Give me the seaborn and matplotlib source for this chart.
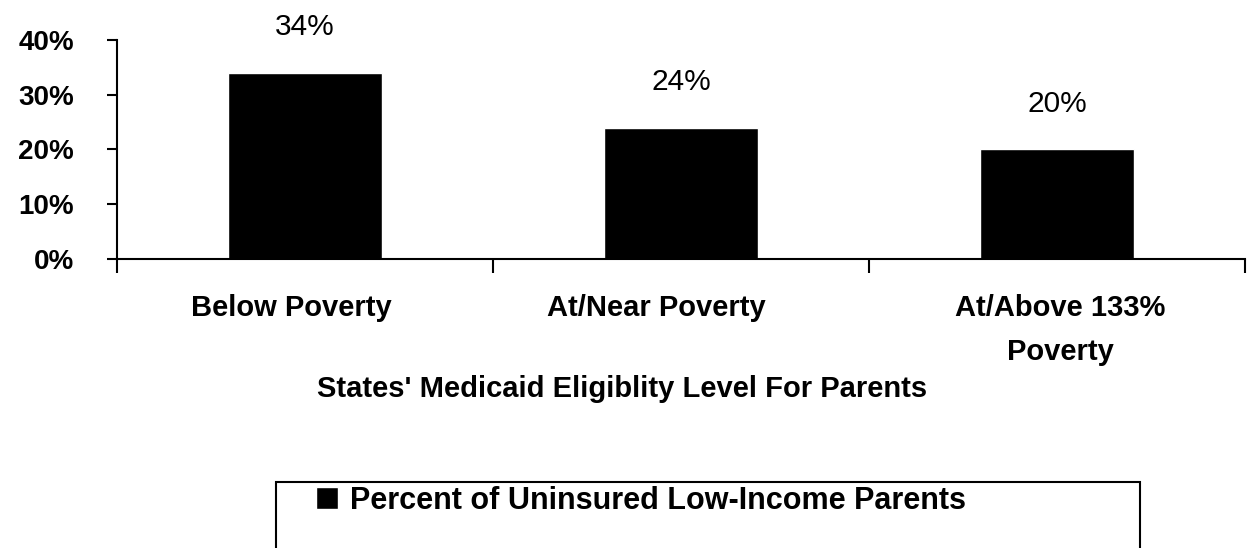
import matplotlib
matplotlib.use("Agg")
import matplotlib.pyplot as plt
from matplotlib.patches import Rectangle
from matplotlib.ticker import FixedLocator
from matplotlib.transforms import ScaledTranslation
import seaborn as sns
import pandas as pd

categories = ["Below Poverty", "At/Near Poverty", "At/Above 133%\nPoverty"]
values = [34, 24, 20]
value_labels = ["34%", "24%", "20%"]
y_ticks = [0, 10, 20, 30, 40]
y_tick_labels = ["0%", "10%", "20%", "30%", "40%"]
series_name = "Percent of Uninsured Low-Income Parents"
x_title = "States' Medicaid Eligiblity Level For Parents"

sns.set_theme(style="white")
plt.rcParams["font.family"] = ["Liberation Sans", "DejaVu Sans"]
for key in ["text.color", "axes.labelcolor", "xtick.color", "ytick.color"]:
    plt.rcParams[key] = "black"

df = pd.DataFrame({"category": categories, "value": values})

fig = plt.figure(figsize=(12.52, 5.48), dpi=100)
ax = fig.add_axes([0.0935, 0.5274, 0.9009, 0.3996])

sns.barplot(data=df, x="category", y="value", color="black", width=0.41,
            saturation=1, ax=ax, label=series_name)
handles, labels = ax.get_legend_handles_labels()
if ax.get_legend() is not None:
    ax.get_legend().remove()

ax.set_xlim(-0.5, 2.5)
ax.set_ylim(0, 40)
ax.set_yticks(y_ticks)
ax.set_yticklabels(y_tick_labels, fontsize=20, fontweight="bold")
ax.tick_params(axis="y", direction="out", length=7, width=1.5, pad=24, left=True)
ax.tick_params(axis="x", which="major", length=0, pad=25, labelsize=21)
# nudge category labels slightly, as in the original layout
label_shift_px = [-14, -25, 3]
for t, dx in zip(ax.get_xticklabels(), label_shift_px):
    t.set_fontweight("bold")
    t.set_linespacing(1.75)
    t.set_transform(t.get_transform() + ScaledTranslation(dx / 100, 0, fig.dpi_scale_trans))
ax.xaxis.set_minor_locator(FixedLocator([-0.5, 0.5, 1.5, 2.5]))
ax.tick_params(axis="x", which="minor", direction="out", length=10, width=1.5, bottom=True)
ax.set_xlabel("")
ax.set_ylabel("")

for s in ["top", "right"]:
    ax.spines[s].set_visible(False)
for s in ["left", "bottom"]:
    ax.spines[s].set_color("black")
    ax.spines[s].set_linewidth(1.5)

# value labels above bars
for i, (v, lab) in enumerate(zip(values, value_labels)):
    ax.annotate(lab, (i, v), xytext=(0, 27), textcoords="offset points",
                ha="center", va="baseline", fontsize=21.5, annotation_clip=False)

fig.text(0.497, 0.29, x_title, ha="center", va="center", fontsize=21, fontweight="bold")

# legend box running off the bottom of the figure
fig.patches.append(Rectangle((276 / 1252, -0.05), (1140 - 276) / 1252, 0.05 + (548 - 482) / 548,
                             transform=fig.transFigure, fill=False, edgecolor="black",
                             linewidth=1.5, clip_on=False))
fig.legend(handles, labels, loc="center left", bbox_to_anchor=(316 / 1252, 1 - 501 / 548),
           frameon=False, prop={"size": 22, "weight": "bold"}, handlelength=0.72,
           handleheight=0.72, handletextpad=0.4, borderaxespad=0, borderpad=0)

fig.savefig("out.png", dpi=100)
